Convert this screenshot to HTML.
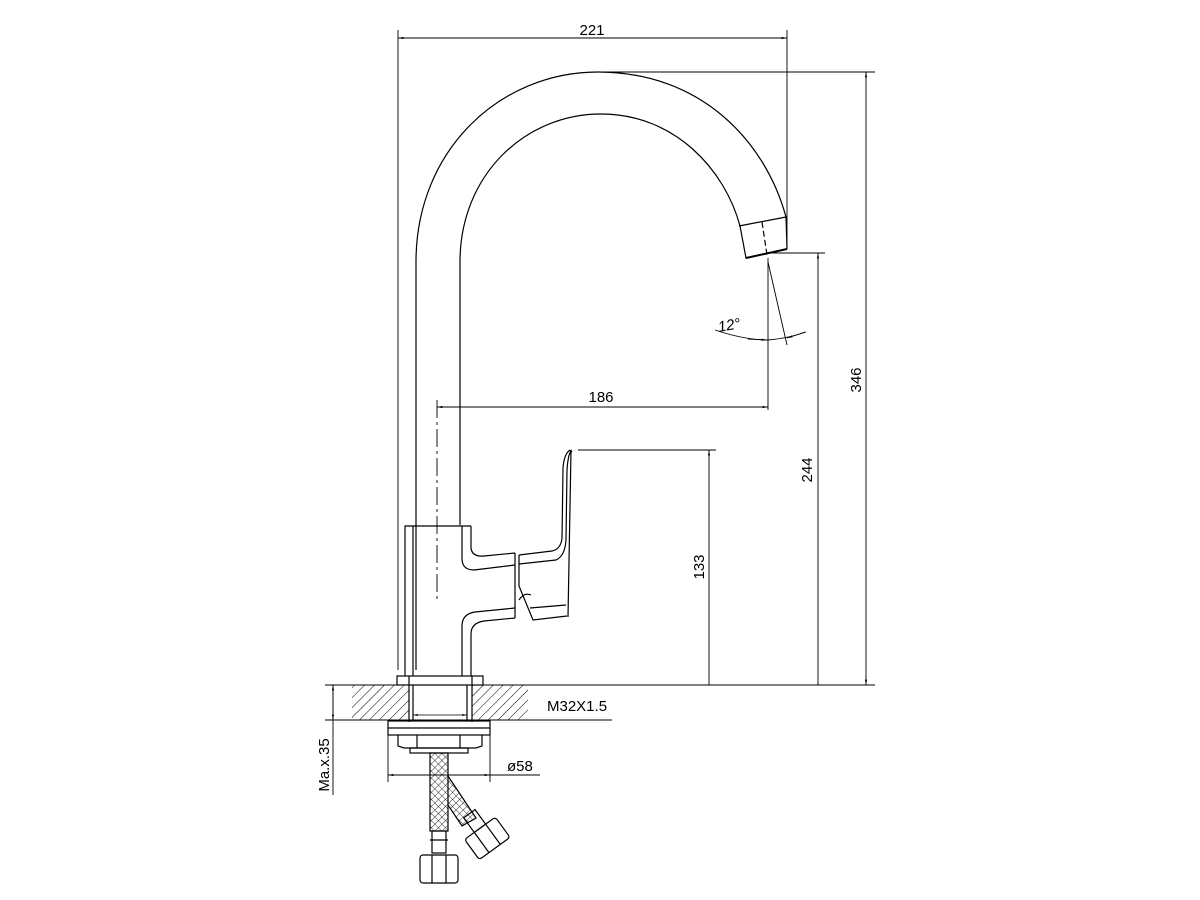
<!DOCTYPE html>
<html><head><meta charset="utf-8"><style>
html,body{margin:0;padding:0;background:#fff;}
svg{display:block}
text{font-family:"Liberation Sans",sans-serif;font-size:15px;fill:#000}
</style></head><body>
<svg width="1200" height="900" viewBox="0 0 1200 900" xmlns="http://www.w3.org/2000/svg">
<defs>
<pattern id="h" width="7" height="7" patternUnits="userSpaceOnUse" patternTransform="rotate(45)"><line x1="0" y1="0" x2="0" y2="7" stroke="#000" stroke-width="1"/></pattern>
<pattern id="x" width="5" height="5" patternUnits="userSpaceOnUse" patternTransform="rotate(45)"><path d="M0 0H5M0 0V5" stroke="#000" stroke-width="0.8" fill="none"/></pattern>
<marker id="a" viewBox="0 0 10 10" refX="10" refY="5" markerWidth="10" markerHeight="6" orient="auto-start-reverse"><path d="M0 3L10 5L0 7z" fill="#000"/></marker>
</defs>
<g fill="none" stroke="#000" stroke-width="1.2">
<!-- spout -->
<path d="M416,670 L416,262 C416,150 500,72 598,72 C700,72 765,140 786,217 L787,249"/>
<path d="M460,525 L460,262 C460,175 525,114 601,114 C675,114 725,170 740,226"/>
<path d="M739,226 L786,217 M740,226 L746,258 L787,249" />
<path d="M746,258 L787,249" stroke-width="2"/>
<path d="M762,222 L767,255" stroke-dasharray="6,3"/>
<!-- centerline -->
<path d="M437,400 L437,600" stroke-dasharray="18,4,3,4" stroke-width="0.9"/>
<!-- body -->
<rect x="405" y="526" width="66" height="150" stroke="none"/>
<path d="M405,676 L405,526 L471,526"/>
<line x1="413" y1="526" x2="413" y2="676"/>
<rect x="397" y="676" width="86" height="9"/>
<!-- handle upper arm -->
<path d="M462,526 L462,560 Q463,570 474,570 L515,565"/>
<path d="M471,526 L471,548 Q472,557 484,556 L515,553"/>
<!-- lever -->
<path d="M519,555 L552,551 Q561,549 562,538 L563,468 Q564,454 570,450"/>
<path d="M519,564 L556,560 Q565,556 566,540 L567,470 Q568,455 571,451 L568,617"/>
<path d="M570,450 L572,452"/>
<line x1="515" y1="553" x2="515" y2="618"/>
<line x1="519" y1="555" x2="519" y2="586"/>
<path d="M519,586 L533,620 L567,616"/>
<path d="M519,600 Q524,592 531,595"/>
<path d="M530,608 L566,605"/>
<!-- lower arm -->
<path d="M515,608 L475,612 Q462,614 462,626 L462,676"/>
<path d="M515,618 L484,621 Q471,623 471,634 L471,676"/>
<!-- ground -->
<line x1="325" y1="685" x2="875" y2="685" stroke-width="1"/>
<rect x="352" y="685" width="57" height="35" fill="url(#h)" stroke="none"/>
<rect x="472" y="685" width="56" height="35" fill="url(#h)" stroke="none"/>
<line x1="325" y1="720" x2="612" y2="720" stroke-width="1"/>
<line x1="409" y1="676" x2="409" y2="722"/><line x1="472" y1="676" x2="472" y2="722"/>
<line x1="413" y1="685" x2="413" y2="720"/><line x1="467" y1="685" x2="467" y2="720"/>
<line x1="413" y1="715" x2="467" y2="715" marker-start="url(#a)" marker-end="url(#a)" stroke-width="0.8"/>
<!-- under parts -->
<rect x="388" y="721" width="102" height="14"/>
<line x1="388" y1="728" x2="490" y2="728"/>
<path d="M398,735 L398,746 L404,748 L476,748 L482,746 L482,735"/>
<line x1="417" y1="735" x2="417" y2="748"/><line x1="460" y1="735" x2="460" y2="748"/>
<rect x="410" y="748" width="58" height="5"/>
<rect x="430" y="753" width="18" height="78" fill="url(#x)"/>
<path d="M448,776 L476,818 L462,826 L448,805" fill="url(#x)"/>
<rect x="432" y="831" width="14" height="22"/>
<line x1="430" y1="840" x2="448" y2="840"/>
<rect x="420" y="855" width="38" height="28" rx="3"/>
<line x1="432" y1="855" x2="432" y2="883"/><line x1="446" y1="855" x2="446" y2="883"/>
<g transform="rotate(-36 487 838)">
<rect x="480" y="808" width="14" height="18"/>
<rect x="468" y="826" width="38" height="25" rx="3"/>
<line x1="480" y1="826" x2="480" y2="851"/><line x1="494" y1="826" x2="494" y2="851"/>
</g>
</g>
<!-- dimensions -->
<g fill="none" stroke="#000" stroke-width="0.9">
<line x1="398" y1="30" x2="398" y2="670"/>
<line x1="787" y1="30" x2="787" y2="245"/>
<line x1="398" y1="38" x2="787" y2="38" marker-start="url(#a)" marker-end="url(#a)"/>
<line x1="600" y1="72" x2="875" y2="72"/>
<line x1="866" y1="72" x2="866" y2="685" marker-start="url(#a)" marker-end="url(#a)"/>
<line x1="770" y1="253" x2="825" y2="253"/>
<line x1="818" y1="253" x2="818" y2="685" marker-start="url(#a)"/>
<line x1="578" y1="450" x2="716" y2="450"/>
<line x1="709" y1="450" x2="709" y2="685" marker-start="url(#a)"/>
<line x1="768" y1="258" x2="768" y2="410"/>
<line x1="437" y1="407" x2="768" y2="407" marker-start="url(#a)" marker-end="url(#a)"/>
<line x1="768" y1="262" x2="787" y2="345"/>
<path d="M715,330 Q745,340 768,340 Q790,338 805,332"/>
<line x1="748" y1="339" x2="767" y2="340" marker-end="url(#a)"/>
<line x1="806" y1="332" x2="787" y2="338" marker-end="url(#a)"/>
<line x1="333" y1="685" x2="333" y2="795"/>
<line x1="333" y1="685" x2="333" y2="720" marker-start="url(#a)" marker-end="url(#a)"/>
<line x1="388" y1="735" x2="388" y2="782"/><line x1="490" y1="735" x2="490" y2="782"/>
<line x1="388" y1="775" x2="540" y2="775"/>
<line x1="388" y1="775" x2="490" y2="775" marker-start="url(#a)" marker-end="url(#a)"/>
</g>
<text x="592" y="35" text-anchor="middle">221</text>
<text x="601" y="402" text-anchor="middle">186</text>
<text x="730" y="330" transform="rotate(-10 730 330)" font-style="italic" text-anchor="middle">12°</text>
<text x="547" y="711">M32X1.5</text>
<text x="507" y="771">ø58</text>
<text transform="translate(861,380) rotate(-90)" text-anchor="middle">346</text>
<text transform="translate(812,470) rotate(-90)" text-anchor="middle">244</text>
<text transform="translate(704,567) rotate(-90)" text-anchor="middle">133</text>
<text transform="translate(329,765) rotate(-90)" text-anchor="middle">Ma.x.35</text>
</svg>
</body></html>
